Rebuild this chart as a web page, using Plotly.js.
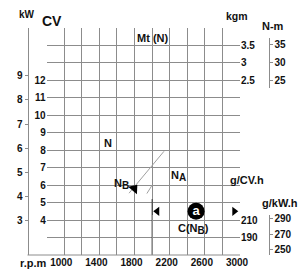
<!DOCTYPE html>
<html><head><meta charset="utf-8">
<script src="https://cdn.plot.ly/plotly-3.0.1.min.js"></script>
<style>html,body{margin:0;padding:0;background:#fff}#c{width:300px;height:273px}</style>
</head><body><div id="c"></div>
<script>
// ---- data ----
const rpmTicks = [1000, 1400, 1800, 2200, 2600, 3000];
const rpmGrid = [1000, 1200, 1400, 1600, 1800, 2000, 2200, 2400, 2600, 2800];
const cvTicks = [4, 5, 6, 7, 8, 9, 10, 11, 12];
const cvGrid = [3, 4, 5, 6, 7, 8, 9, 10, 11, 12, 13, 14];
const kwTicks = [3, 4, 5, 6, 7, 8, 9];
const kgmTicks = [2.5, 3, 3.5];
const nmTicks = [25, 30, 35];
const gcvTicks = [190, 210];
const gkwTicks = [250, 270, 290];
const nbLineRpm = [1737, 2135];
const nbLineCv = [5.54, 7.94];
const shortLineRpm = [1940, 2000];
const shortLineCv = [5.52, 6.0];
const nbArrowRpm = [1795];
const nbArrowCv = [5.8];
const markLineRpm = [2000, 2000];
const markLineCv = [2, 5.2];
const rangeArrowRpm = [2058, 2935];
const rangeArrowCv = [4.5, 4.5];
const circleRpm = [2500];
const circleCv = [4.5];

const W = 300, H = 273, T = 27.5, B = 18;
const ph = H - T - B;
const px = v => v / W;
const py = v => (255 - v) / ph;
const G = '#8c8c8c';
const F = 'Liberation Sans, Arial, sans-serif';
const tf = (s) => ({family: F, size: s, color: '#111', weight: 'bold'});

const traces = [
  {x: nbLineRpm, y: nbLineCv, mode: 'lines', line: {color: '#a0a0a0', width: 1}, hoverinfo: 'skip'},
  {x: shortLineRpm, y: shortLineCv, mode: 'lines', line: {color: '#a0a0a0', width: 1}, hoverinfo: 'skip'},
  {x: markLineRpm, y: markLineCv, mode: 'lines', line: {color: '#333', width: 1}, hoverinfo: 'skip'},
  {x: nbArrowRpm, y: nbArrowCv, mode: 'markers', marker: {symbol: 'triangle-up', size: 10, angle: 40, color: '#000'}, hoverinfo: 'skip'},
  {x: [rangeArrowRpm[0]], y: [rangeArrowCv[0]], mode: 'markers', marker: {symbol: 'triangle-left', size: 8, color: '#000'}, hoverinfo: 'skip'},
  {x: [rangeArrowRpm[1]], y: [rangeArrowCv[1]], mode: 'markers', marker: {symbol: 'triangle-right', size: 8, color: '#000'}, hoverinfo: 'skip'},
  {x: circleRpm, y: circleCv, mode: 'markers+text', text: ['a'], textposition: 'middle center',
   textfont: {family: F, size: 13, color: '#fff', weight: 'bold'},
   marker: {symbol: 'circle', size: 17, color: '#000'}, hoverinfo: 'skip'},
  {x: [null], y: [null], yaxis: 'y2', mode: 'markers', hoverinfo: 'skip'},
  {x: [null], y: [null], yaxis: 'y3', mode: 'markers', hoverinfo: 'skip'},
  {x: [null], y: [null], yaxis: 'y4', mode: 'markers', hoverinfo: 'skip'},
  {x: [null], y: [null], yaxis: 'y5', mode: 'markers', hoverinfo: 'skip'},
  {x: [null], y: [null], yaxis: 'y6', mode: 'markers', hoverinfo: 'skip'}
];

const ann = (text, x, y, size, extra) => Object.assign({text, x: px(x), y: py(y), xref: 'paper', yref: 'paper',
  showarrow: false, xanchor: 'center', yanchor: 'middle', font: tf(size)}, extra || {});
const sub = s => '<sub><span style="font-size:10px">' + s + '</span></sub>';

const layout = {
  width: W, height: H, margin: {l: 0, r: 0, t: T, b: B},
  paper_bgcolor: '#fff', plot_bgcolor: 'rgba(0,0,0,0)', showlegend: false,
  xaxis: {domain: [46.7 / W, 240 / W], range: [800, 3000], tickvals: rpmTicks, ticktext: rpmTicks.map(String),
    showgrid: false, zeroline: false, showline: false, ticks: '', tickfont: tf(10), ticklabelshift: -3,
    minor: {tickvals: rpmGrid, showgrid: true, gridcolor: G, gridwidth: 1, ticks: ''}, automargin: false, fixedrange: true},
  yaxis: {range: [2, 15], tickvals: cvTicks, ticktext: cvTicks.map(String), showgrid: false, zeroline: false,
    ticks: '', tickfont: tf(10), minor: {tickvals: cvGrid, showgrid: true, gridcolor: G, gridwidth: 1, ticks: ''},
    automargin: false, fixedrange: true},
  yaxis2: {overlaying: 'y', anchor: 'free', position: 27.5 / W, side: 'left', range: [1.583, 10.97],
    tickvals: kwTicks, ticktext: kwTicks.map(String), showline: true, linecolor: G, linewidth: 1,
    ticks: 'outside', ticklen: 3, tickcolor: G, showgrid: false, zeroline: false, tickfont: tf(10), automargin: false},
  yaxis3: {overlaying: 'y', anchor: 'x', side: 'right', range: [-2.5, 4], tickvals: kgmTicks, ticktext: kgmTicks.map(String),
    showgrid: false, zeroline: false, showline: false, ticks: '', tickfont: tf(10), automargin: false},
  yaxis4: {overlaying: 'y', anchor: 'x', side: 'right', range: [170, 430], tickvals: gcvTicks, ticktext: gcvTicks.map(String),
    showgrid: false, zeroline: false, showline: false, ticks: '', tickfont: tf(10), automargin: false},
  yaxis5: {domain: [py(88), py(38)], anchor: 'free', position: 268.5 / W, side: 'right', range: [22.71, 36.71],
    tickvals: nmTicks, ticktext: nmTicks.map(String), showline: true, linecolor: G, linewidth: 1,
    ticks: 'outside', ticklen: 3, tickcolor: G, showgrid: false, zeroline: false, tickfont: tf(10), automargin: false},
  yaxis6: {domain: [0, py(215)], anchor: 'free', position: 268.5 / W, side: 'right', range: [242.9, 294.5],
    tickvals: gkwTicks, ticktext: gkwTicks.map(String), showline: true, linecolor: G, linewidth: 1,
    ticks: 'outside', ticklen: 3, tickcolor: G, showgrid: false, zeroline: false, tickfont: tf(10), automargin: false},
  shapes: [
    {type: 'line', xref: 'paper', yref: 'paper', x0: px(27.5), x1: px(240), y0: 0, y1: 0, line: {color: G, width: 1}}
  ],
  annotations: [
    ann('kW', 26.5, 14, 10),
    ann('CV', 52, 20.5, 14),
    ann('Mt (N)', 152.5, 38, 11),
    ann('kgm', 236.5, 15, 10.5),
    ann('N-m', 272.5, 25, 11),
    ann('N', 108, 142.5, 11),
    ann('N' + sub('B'), 121.5, 184, 11),
    ann('N' + sub('A'), 178, 176, 11),
    ann('g/CV.h', 247.3, 180, 11),
    ann('g/kW.h', 280, 203, 11),
    ann('C(N' + sub('B') + ')', 193, 229, 11),
    ann('r.p.m', 33, 263, 11)
  ]
};
Plotly.newPlot('c', traces, layout, {staticPlot: true, displayModeBar: false});
</script></body></html>
